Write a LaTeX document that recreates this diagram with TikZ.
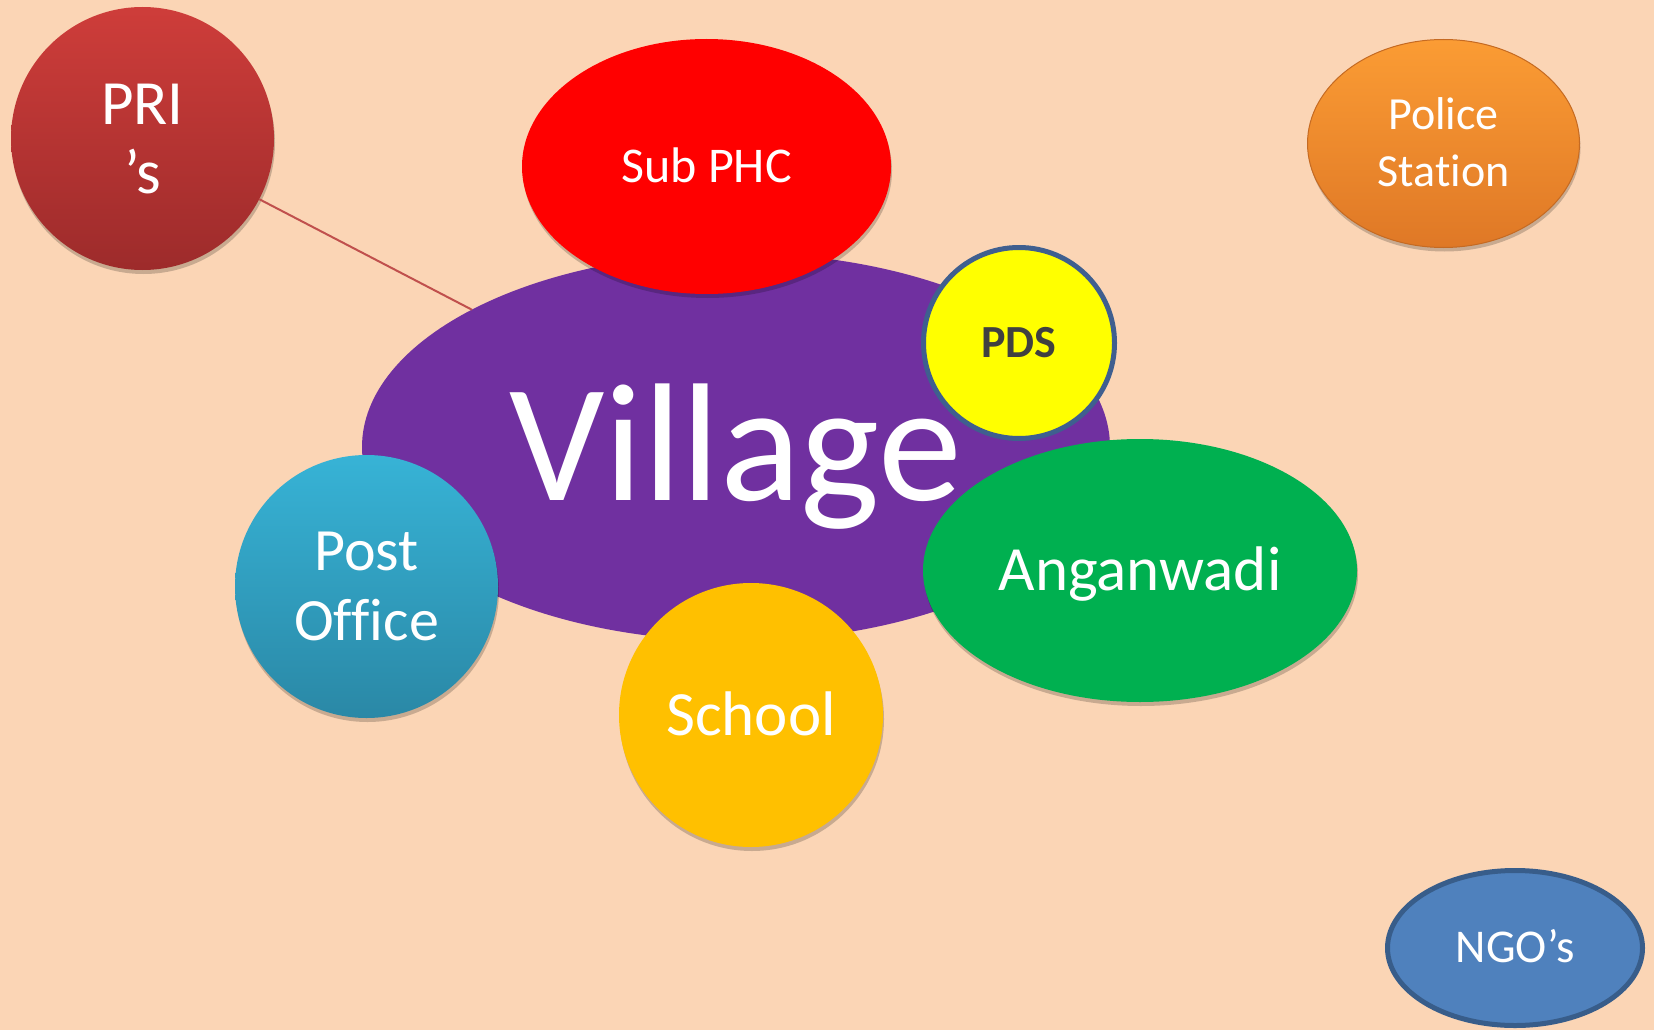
\documentclass[tikz,border=0pt]{standalone}
\usepackage{fontspec}
\setmainfont{Carlito}[Ligatures=NoCommon]
\usetikzlibrary{shapes.geometric,shadows}
\definecolor{bgpeach}{HTML}{FBD5B5}
\definecolor{villagepurple}{HTML}{7030A0}
\definecolor{phcred}{HTML}{FF0000}
\definecolor{pdsyellow}{HTML}{FFFF00}
\definecolor{pdsborder}{HTML}{3F5F8F}
\definecolor{pdstext}{HTML}{404040}
\definecolor{angreen}{HTML}{00B050}
\definecolor{schoolgold}{HTML}{FFC000}
\definecolor{posttop}{HTML}{37B3D6}
\definecolor{postbot}{HTML}{2A88A6}
\definecolor{pritop}{HTML}{CE3D3A}
\definecolor{pribot}{HTML}{9D2B2B}
\definecolor{policetop}{HTML}{FB9C34}
\definecolor{policebot}{HTML}{DF7826}
\definecolor{policeedge}{HTML}{C56A22}
\definecolor{ngofill}{HTML}{4F81BD}
\definecolor{ngoedge}{HTML}{385D8A}
\definecolor{linkred}{HTML}{C0504D}
\begin{document}
\begin{tikzpicture}[x=1pt,y=-1pt,
  blob/.style={inner sep=0pt, outer sep=0pt, text=white, align=center},
  oval/.style={blob, ellipse},
  disc/.style={blob, circle},
  softshadow/.style={drop shadow={shadow xshift=1pt, shadow yshift=-4pt, opacity=0.2, fill=black}},
  link/.style={draw=linkred, line width=2pt}
]
\useasboundingbox (0,0) rectangle (1654,1030);
\fill[bgpeach] (0,0) rectangle (1654,1030);

\node[oval, fill=villagepurple, minimum width=748pt, minimum height=388pt,
  font=\fontsize{168}{168}\selectfont, text height=106pt, text depth=0pt]
  (village) at (736,447) {Village};

\node[oval, softshadow, fill=phcred, minimum width=369pt, minimum height=255pt,
  font=\fontsize{50}{60}\selectfont, text height=31.6pt, text depth=0pt]
  (subphc) at (706.5,166.5) {Sub PHC};

\node[disc, fill=pdsyellow, draw=pdsborder, line width=5pt, minimum size=191pt,
  text=pdstext, font=\bfseries\fontsize{46}{50}\selectfont, text height=29pt, text depth=0pt]
  (pds) at (1019,343) {PDS};

\node[oval, softshadow, fill=angreen, minimum width=434pt, minimum height=263pt,
  font=\fontsize{63}{70}\selectfont, text height=40pt, text depth=0pt]
  (anganwadi) at (1140,570.5) {Anganwadi};

\node[disc, softshadow, top color=posttop, bottom color=postbot, minimum size=263pt,
  font=\fontsize{60}{70}\selectfont, text height=108pt, text depth=0pt]
  (post) at (366.5,586.5) {Post\\Office};

\node[disc, softshadow, fill=schoolgold, minimum size=264pt,
  font=\fontsize{63}{70}\selectfont, text height=40pt, text depth=0pt]
  (school) at (751,715) {School};

\node[disc, softshadow, top color=pritop, bottom color=pribot, minimum size=263pt,
  font=\fontsize{63}{69}\selectfont, text height=109pt, text depth=0pt]
  (pri) at (142.5,138.5) {PRI\\’s};

\node[oval, softshadow, top color=policetop, bottom color=policebot, draw=policeedge,
  line width=1pt, minimum width=272pt, minimum height=208pt,
  font=\fontsize{46}{57}\selectfont, text height=86pt, text depth=0pt]
  (police) at (1443.5,143.5) {Police\\Station};

\node[oval, fill=ngofill, draw=ngoedge, line width=5pt, minimum width=255pt, minimum height=155pt,
  font=\fontsize{47}{55}\selectfont, text height=29.7pt, text depth=0pt]
  (ngo) at (1515,948) {NGO’s};

\draw[link] (pri) -- (village);
\end{tikzpicture}
\end{document}
